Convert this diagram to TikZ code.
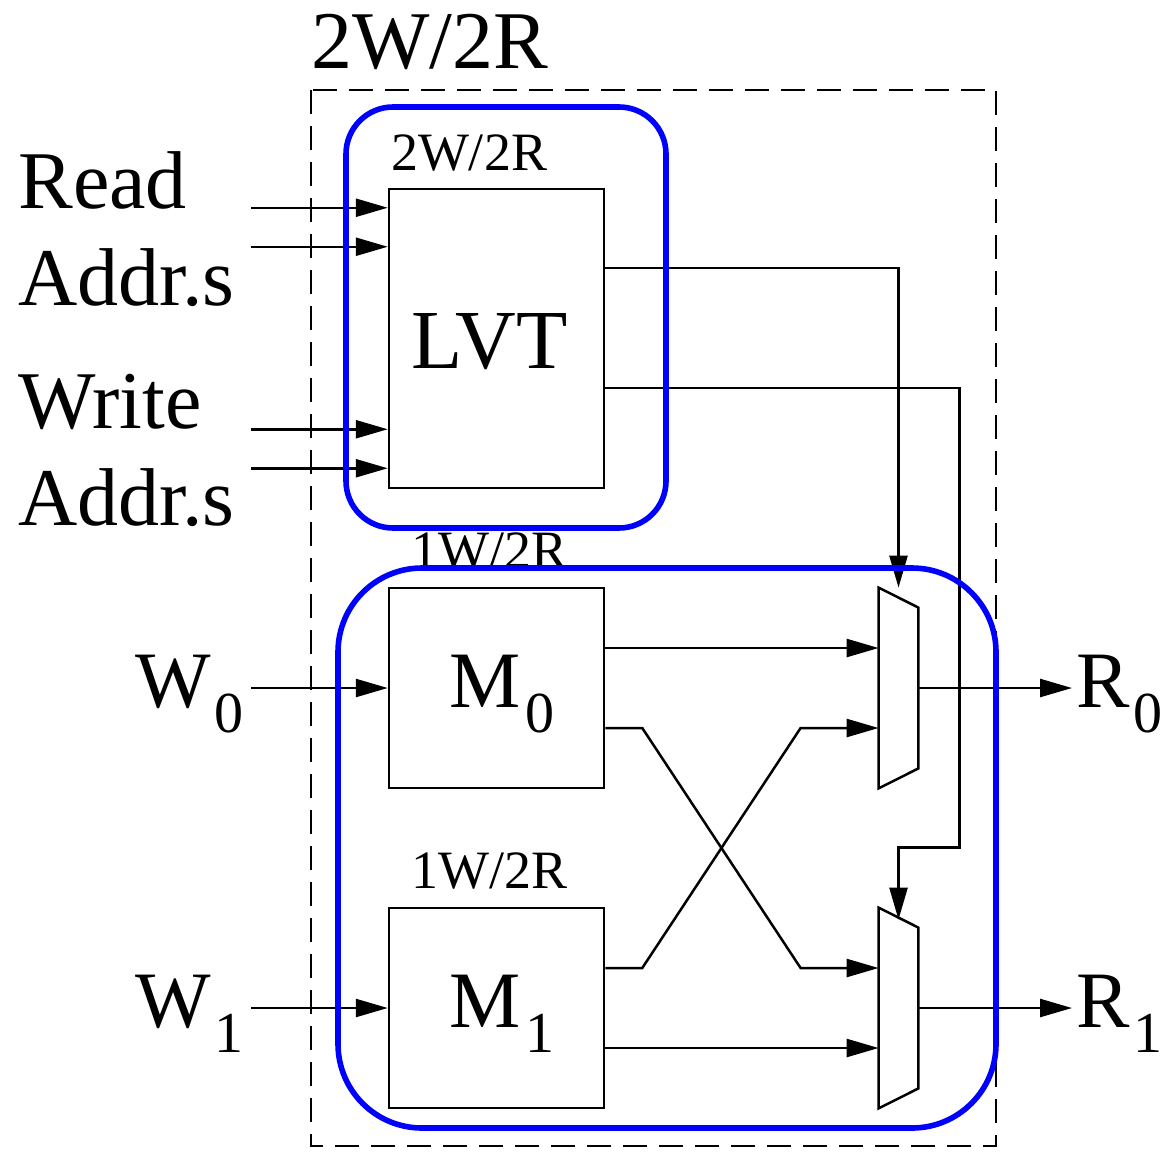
\documentclass[tikz,border=0pt]{standalone}
\usepackage{fontspec}
\setmainfont{Liberation Serif}
\usetikzlibrary{positioning,arrows.meta}
\newcommand\sub[1]{\kern2pt\raisebox{-12.5pt}{\fontsize{29}{29}\selectfont #1}}

\begin{document}
\begin{tikzpicture}[x=0.5pt, y=-0.5pt,
  blk/.style={draw, line width=1.25pt, minimum width=107.5pt, inner sep=0pt},
  muxbox/.style={minimum width=19.5pt, minimum height=100pt, inner sep=0pt},
  lbl/.style={inner sep=0pt, font=\fontsize{41}{48}\selectfont},
  sym/.style={inner sep=0pt, font=\fontsize{40}{48}\selectfont},
  tag/.style={inner sep=0pt, font=\fontsize{27}{30}\selectfont},
  arr/.style={-{Triangle[length=16pt,width=9pt]}, line width=1.25pt},
  wire/.style={line width=1.25pt},
  grp/.style={draw=blue, line width=2.8pt}]
  \useasboundingbox (0,0) rectangle (1166,1151);
  \draw[line width=1.3pt, dash pattern=on 12pt off 6pt] (311,90) rectangle (996,1146);
  \node[lbl, anchor=base west] (top) at (311,68) {2W/2R};

  \node[blk, minimum height=149.5pt] (lvt) at (496.5,338.5) {};
  \node[blk, minimum height=100pt] (m0) at (496.5,688) {};
  \node[blk, minimum height=100pt] (m1) at (496.5,1008) {};
  \node[sym, anchor=base, font=\fontsize{42}{48}\selectfont] (lvtname) at (489.5,368) {LVT};
  \node[sym, anchor=base] (m0name) at (502,707) {M\sub{0}};
  \node[sym, anchor=base] (m1name) at (502,1027) {M\sub{1}};
  \node[muxbox] (mux0) at (898.5,688) {};
  \node[muxbox] (mux1) at (898.5,1008) {};
  \draw[wire] (mux0.north west) -- ([yshift=-10pt]mux0.north east) -- ([yshift=10pt]mux0.south east) -- (mux0.south west) -- cycle;
  \draw[wire] (mux1.north west) -- ([yshift=-10pt]mux1.north east) -- ([yshift=10pt]mux1.south east) -- (mux1.south west) -- cycle;

  \node[tag, anchor=base] (lvttag) at (469,170) {2W/2R};
  \node[tag, anchor=base] (m0tag) at (489.5,568) {1W/2R};
  \node[tag, anchor=base] (m1tag) at (489.5,888) {1W/2R};

  \node[lbl, anchor=base west] (rd) at (18,208) {Read};
  \node[lbl, anchor=base west] (rdaddr) at (18,305) {Addr.s};
  \node[lbl, anchor=base west] (wr) at (18,428) {Write};
  \node[lbl, anchor=base west] (wraddr) at (18,525) {Addr.s};
  \node[sym, anchor=base east] (w0) at (244,707) {W\sub{0}};
  \node[sym, anchor=base east] (w1) at (244,1027) {W\sub{1}};
  \node[sym, anchor=base west] (r0) at (1076,707) {R\sub{0}};
  \node[sym, anchor=base west] (r1) at (1076,1027) {R\sub{1}};

  \draw[arr] ([xshift=-68.5pt,yshift=-10pt]lvt.north west) -- ([yshift=-10pt]lvt.north west);
  \draw[arr] ([xshift=-68.5pt,yshift=-29.5pt]lvt.north west) -- ([yshift=-29.5pt]lvt.north west);
  \draw[arr] ([xshift=-68.5pt,yshift=30pt]lvt.south west) -- ([yshift=30pt]lvt.south west);
  \draw[arr] ([xshift=-68.5pt,yshift=10.5pt]lvt.south west) -- ([yshift=10.5pt]lvt.south west);
  \draw[arr] ([xshift=-68.5pt]m0.west) -- (m0.west);
  \draw[arr] ([xshift=-68.5pt]m1.west) -- (m1.west);

  \draw[arr] ([yshift=35.25pt]lvt.east) -| (mux0.north);
  \draw[arr] ([yshift=-24.75pt]lvt.east) -- ++(177pt,0) |- ([yshift=30pt]mux1.north) -- ([yshift=-6pt]mux1.north);

  \draw[arr] ([yshift=20pt]m0.east) -- ([yshift=20pt]mux0.west);
  \draw[arr] ([yshift=-20pt]m0.east) -- ++(18.5pt,0) -- ([xshift=-39pt,yshift=20pt]mux1.west) -- ([yshift=20pt]mux1.west);
  \draw[arr] ([yshift=20pt]m1.east) -- ++(18.5pt,0) -- ([xshift=-39pt,yshift=-20pt]mux0.west) -- ([yshift=-20pt]mux0.west);
  \draw[arr] ([yshift=-20pt]m1.east) -- ([yshift=-20pt]mux1.west);

  \draw[arr] (mux0.east) -- ([xshift=-2pt]mux0.east -| r0.west);
  \draw[arr] (mux1.east) -- ([xshift=-2pt]mux1.east -| r1.west);

  \draw[grp, rounded corners=23.5pt] (346,107) rectangle (666,528);
  \draw[grp, rounded corners=42pt] (338,568) rectangle (996,1128);
\end{tikzpicture}
\end{document}
